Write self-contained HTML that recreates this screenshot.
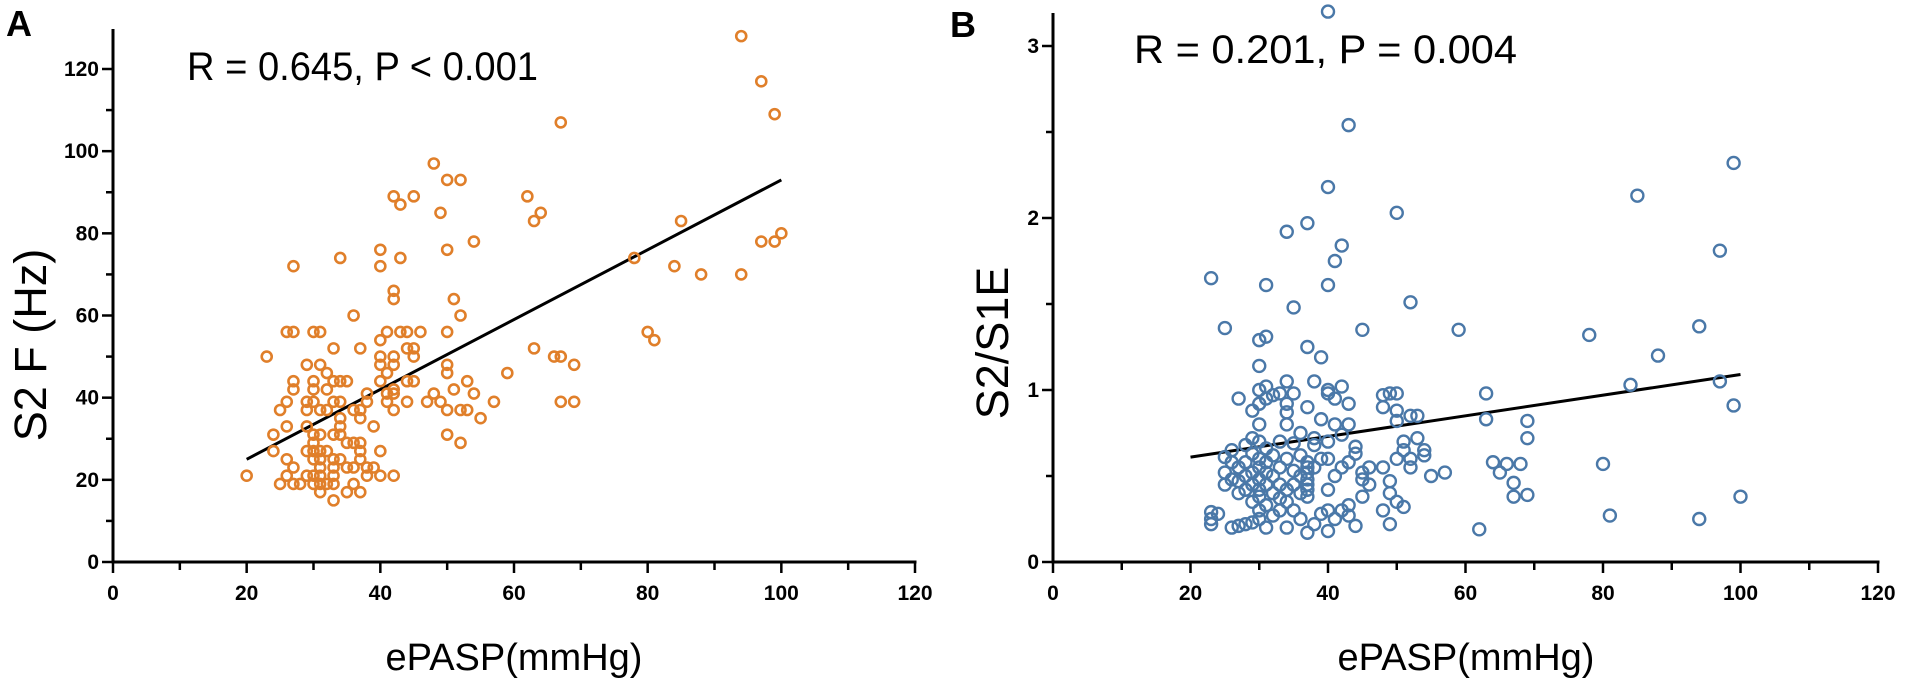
<!DOCTYPE html>
<html><head><meta charset="utf-8"><style>
html,body{margin:0;padding:0;background:#fff;}
svg{display:block;font-family:"Liberation Sans",Arial,sans-serif;}
</style></head><body>
<svg id="fig" width="1905" height="686" viewBox="0 0 1905 686" xmlns="http://www.w3.org/2000/svg">
<text x="6" y="36" font-size="36" font-weight="bold">A</text>
<text x="950" y="37" font-size="36" font-weight="bold">B</text>
<text x="187" y="80" font-size="40" textLength="351" lengthAdjust="spacingAndGlyphs">R = 0.645, P &lt; 0.001</text>
<text x="1134" y="63" font-size="40" textLength="383" lengthAdjust="spacingAndGlyphs">R = 0.201, P = 0.004</text>
<text x="514" y="670" font-size="38" text-anchor="middle">ePASP(mmHg)</text>
<text x="1466" y="670" font-size="38" text-anchor="middle">ePASP(mmHg)</text>
<text transform="translate(46,345) rotate(-90)" font-size="45" text-anchor="middle">S2 F (Hz)</text>
<text transform="translate(1008,343) rotate(-90)" font-size="45" text-anchor="middle">S2/S1E</text>
<g id="pa"></g>
<g id="pb"></g>
</svg>
<script>
const xTicks = [0, 20, 40, 60, 80, 100, 120];
const aYTicks = [0, 20, 40, 60, 80, 100, 120];
const bYTicks = [0, 1, 2, 3];
const aX = [94,97,99,67,48,50,52,42,45,43,62,64,63,49,54,50,40,34,43,40,27,42,42,51,52,36,26,27,30,31,40,41,43,44,46,50,33,37,44,45,63,23,40,42,45,66,67,29,31,40,42,50,69,32,41,50,59,27,30,33,34,35,40,44,45,53,27,30,32,38,41,42,42,51,54,48,26,29,30,33,34,38,41,44,47,49,57,67,69,25,29,31,32,36,37,42,50,52,53,37,34,55,26,29,34,39,24,30,31,33,34,50,30,35,36,37,52,24,29,30,31,32,37,40,26,30,31,33,34,37,27,31,33,35,36,38,39,26,29,30,31,33,38,40,42,20,25,27,28,30,31,32,33,36,31,35,37,33,78,84,85,88,94,97,99,100,80,81];
const aY = [128,117,109,107,97,93,93,89,89,87,89,85,83,85,78,76,76,74,74,72,72,66,64,64,60,60,56,56,56,56,54,56,56,56,56,56,52,52,52,52,52,50,50,50,50,50,50,48,48,48,48,48,48,46,46,46,46,44,44,44,44,44,44,44,44,44,42,42,42,41,41,42,41,42,41,41,39,39,39,39,39,39,39,39,39,39,39,39,39,37,37,37,37,37,37,37,37,37,37,35,35,35,33,33,33,33,31,31,31,31,31,31,29,29,29,29,29,27,27,27,27,27,27,27,25,25,25,25,25,25,23,23,23,23,23,23,23,21,21,21,21,21,21,21,21,21,19,19,19,19,19,19,19,19,17,17,17,15,74,72,83,70,70,78,78,80,56,54];
const aLineX = [20, 100];
const aLineY = [25, 93];
const bX = [40,43,40,50,37,34,42,41,23,31,40,35,52,25,45,59,30,31,37,78,88,94,99,85,97,84,97,99,100,94,80,81,62,63,63,69,69,66,68,65,67,67,69,64,
23,23,23,24,25,25,25,26,26,26,26,27,27,27,27,27,28,28,28,28,28,29,29,29,29,29,29,29,30,30,30,30,30,30,30,30,30,30,30,30,31,31,31,31,31,31,31,31,32,32,32,32,32,33,33,33,33,33,33,34,34,34,34,34,34,34,34,35,35,35,35,35,36,36,36,36,36,37,37,37,37,37,37,37,37,37,38,38,38,38,38,39,39,39,39,40,40,40,40,40,40,40,41,41,41,41,42,42,42,42,43,43,43,43,43,44,44,44,45,45,45,46,46,48,48,48,48,49,49,49,49,50,50,50,50,50,51,51,51,52,52,52,53,53,54,54,55,57];
const bY = [3.2,2.54,2.18,2.03,1.97,1.92,1.84,1.75,1.65,1.61,1.61,1.48,1.51,1.36,1.35,1.35,1.29,1.31,1.25,1.32,1.2,1.37,2.32,2.13,1.81,1.03,1.05,0.91,0.38,0.25,0.57,0.27,0.19,0.98,0.83,0.82,0.72,0.57,0.57,0.52,0.46,0.38,0.39,0.58,
0.22,0.25,0.29,0.28,0.45,0.52,0.61,0.2,0.48,0.58,0.65,0.21,0.4,0.47,0.55,0.95,0.22,0.42,0.5,0.58,0.68,0.23,0.35,0.45,0.52,0.63,0.72,0.88,0.25,0.3,0.38,0.42,0.48,0.55,0.6,0.7,0.8,0.92,1.0,1.14,0.2,0.33,0.45,0.52,0.58,0.66,0.95,1.02,0.27,0.4,0.5,0.62,0.97,0.3,0.37,0.45,0.55,0.7,0.98,0.2,0.35,0.42,0.6,0.8,0.87,0.92,1.05,0.3,0.45,0.53,0.69,0.98,0.25,0.4,0.5,0.62,0.75,0.17,0.38,0.42,0.45,0.48,0.52,0.55,0.58,0.9,0.22,0.55,0.68,0.72,1.05,0.28,0.6,0.83,1.19,0.18,0.3,0.42,0.6,0.7,0.98,1.0,0.25,0.5,0.8,0.95,0.3,0.55,0.74,1.02,0.27,0.33,0.58,0.8,0.92,0.21,0.63,0.67,0.38,0.48,0.52,0.45,0.55,0.3,0.55,0.9,0.97,0.22,0.4,0.47,0.98,0.35,0.6,0.82,0.88,0.98,0.32,0.65,0.7,0.55,0.6,0.85,0.72,0.85,0.62,0.65,0.5,0.52];
const bLineX = [20, 100];
const bLineY = [0.61, 1.09];

const NS = "http://www.w3.org/2000/svg";
function mk(tag, attrs, parent){ const e=document.createElementNS(NS,tag); for(const k in attrs) e.setAttribute(k,attrs[k]); parent.appendChild(e); return e; }

function drawPanel(g, cfg){
  const sx = v => cfg.x0 + (v - 0) * (cfg.x1 - cfg.x0) / 120;
  const sy = v => cfg.y0 - v * (cfg.y0 - cfg.yTopTick) / cfg.yMax;
  const yAxis = mk('line',{x1:cfg.x0,y1:cfg.yTop,x2:cfg.x0,y2:cfg.y0+1.5,stroke:'#000','stroke-width':3},g);
  
  
  const xAxis = mk('line',{x1:cfg.x0-1.5,y1:cfg.y0,x2:cfg.x1+1.5,y2:cfg.y0,stroke:'#000','stroke-width':3},g);
  
  
  for(let v=0; v<=120; v+=10){
    const major = v%20===0;
    const t = mk('line',{x1:sx(v),y1:cfg.y0,x2:sx(v),y2:cfg.y0+(major?11:8),stroke:'#000','stroke-width':2.5},g);
    
    
  }
  xTicks.forEach(v=>{
    const t = mk('text',{x:sx(v),y:cfg.y0+38,'font-size':21,'font-weight':'bold','text-anchor':'middle'},g);
    t.textContent = v;
    
    
  });
  const step = cfg.yTicks[1]-cfg.yTicks[0];
  for(let i=0;i<cfg.yTicks.length;i++){
    const v = cfg.yTicks[i];
    const t = mk('line',{x1:cfg.x0,y1:sy(v),x2:cfg.x0-11,y2:sy(v),stroke:'#000','stroke-width':2.5},g);
    
    
    if(i<cfg.yTicks.length-1){
      const m = v + step/2;
      const mt = mk('line',{x1:cfg.x0,y1:sy(m),x2:cfg.x0-7,y2:sy(m),stroke:'#000','stroke-width':2.5},g);
      
      
    }
    const l = mk('text',{x:cfg.x0-14,y:sy(v)+7,'font-size':21,'font-weight':'bold','text-anchor':'end'},g);
    l.textContent = v;
    
    
  }
  const ln = mk('line',{x1:sx(cfg.lx[0]),y1:sy(cfg.ly[0]),x2:sx(cfg.lx[1]),y2:sy(cfg.ly[1]),stroke:'#000','stroke-width':3},g);
  
  
  for(let i=0;i<cfg.xs.length;i++){
    const c = mk('circle',{cx:sx(cfg.xs[i]),cy:sy(cfg.ys[i]),r:cfg.r,fill:'none',stroke:cfg.color,'stroke-width':cfg.sw},g);
    
    
  }
}
drawPanel(document.getElementById('pa'),{x0:113,x1:915,y0:562,yTop:29,yTopTick:69,yMax:120,yTicks:aYTicks,xs:aX,ys:aY,lx:aLineX,ly:aLineY,color:'#e07f2a',r:5,sw:2.6});
drawPanel(document.getElementById('pb'),{x0:1053,x1:1878,y0:562,yTop:13,yTopTick:46,yMax:3,yTicks:bYTicks,xs:bX,ys:bY,lx:bLineX,ly:bLineY,color:'#4a78a8',r:6,sw:2.4});
</script>
</body></html>
